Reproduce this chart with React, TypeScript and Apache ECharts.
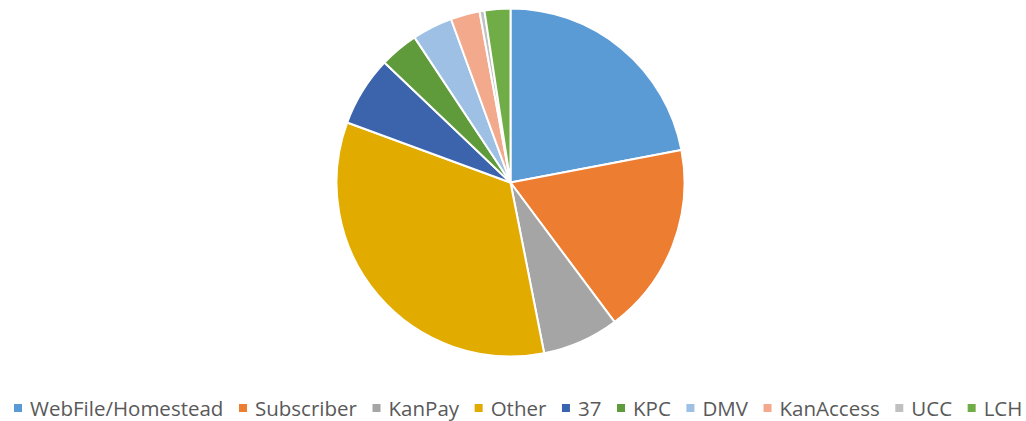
import React, { useEffect, useRef } from "react";
import * as echarts from "echarts";

const categories = ["WebFile/Homestead", "Subscriber", "KanPay", "Other", "37", "KPC", "DMV", "KanAccess", "UCC", "LCH"];
const values = [22.0, 17.8, 7.1, 33.7, 6.5, 3.6, 3.75, 2.7, 0.45, 2.4];
const colors = ["#5B9BD5", "#ED7D31", "#A5A5A5", "#E2AB00", "#3C64AD", "#5F9A3B", "#9DC0E4", "#F2A98C", "#C0C0C0", "#70AD47"];

export default function App() {
  const ref = useRef<HTMLDivElement>(null);
  useEffect(() => {
    document.body.style.margin = "0";
    const chart = echarts.init(ref.current!, null, { renderer: "svg" });
    chart.setOption({
      animation: false,
      color: colors,
      legend: {
        top: 396,
        left: 12,
        padding: 0,
        icon: "rect",
        itemWidth: 10,
        itemHeight: 10,
        itemGap: 13.6,
        textStyle: { fontSize: 20.5, lineHeight: 24, color: "#595959", fontFamily: "Open Sans", padding: [0, 0, 0, 2] },
        data: categories,
      },
      series: [
        {
          type: "pie",
          center: [510.5, 182.5],
          radius: 174,
          startAngle: 90,
          clockwise: true,
          label: { show: false },
          labelLine: { show: false },
          itemStyle: { borderColor: "#fff", borderWidth: 2 },
          data: categories.map((c, i) => ({ name: c, value: values[i] })),
        },
      ],
    });
    return () => chart.dispose();
  }, []);
  return <div ref={ref} style={{ width: 1026, height: 421 }} />;
}
